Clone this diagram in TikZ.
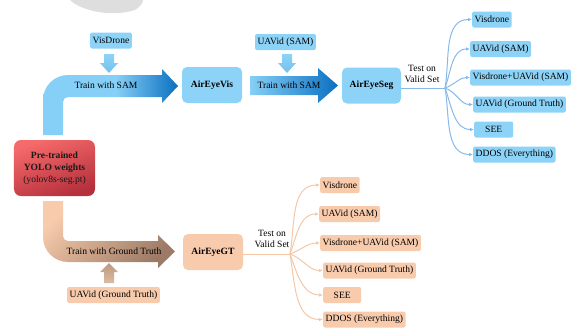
\documentclass[tikz,border=0pt]{standalone}
\usepackage{fontspec}
\setmainfont{Liberation Serif}
\usetikzlibrary{arrows.meta}
\definecolor{boxblue}{HTML}{8DD3F7}
\definecolor{boxpeach}{HTML}{F8CBAD}
\definecolor{lineblue}{HTML}{86B9EC}
\definecolor{linepeach}{HTML}{F5C7A6}
\definecolor{arrlight}{HTML}{86CFF6}
\definecolor{arrdark}{HTML}{0A6FC0}
\definecolor{peachlight}{HTML}{F7CBAB}
\definecolor{peachdark}{HTML}{9C7A66}
\definecolor{redlight}{HTML}{F56A6A}
\definecolor{reddark}{HTML}{B5303D}
\definecolor{blobgray}{HTML}{DEDEDE}
\definecolor{tan}{HTML}{D2AA8A}
\pgfdeclarehorizontalshading{bluearrA}{100bp}{color(0bp)=(arrlight); color(25bp)=(arrlight); color(52bp)=(arrlight); color(75bp)=(arrdark); color(100bp)=(arrdark)}
\pgfdeclarehorizontalshading{bluearrB}{100bp}{color(0bp)=(arrlight); color(25bp)=(arrlight); color(75bp)=(arrdark); color(100bp)=(arrdark)}
\newcommand\myfs{\fontsize{9.6}{11.5}\selectfont}
\begin{document}
\begin{tikzpicture}[x=1bp,y=-1bp,
  sbox/.style={fill=boxblue, rounded corners=2bp, inner xsep=2.5bp, inner ysep=0pt, minimum height=16bp, font=\myfs},
  pbox/.style={sbox, fill=boxpeach},
  bigbox/.style={fill=boxblue, rounded corners=5bp, minimum width=60bp, minimum height=36bp, font=\myfs\bfseries},
  pbig/.style={bigbox, fill=boxpeach},
  lbl/.style={font=\myfs, inner sep=0pt, align=center},
  fanb/.style={draw=lineblue, line width=1bp, -{Latex[length=4bp,width=3.5bp]}},
  fanp/.style={draw=linepeach, line width=1bp, -{Latex[length=4bp,width=3.5bp]}},
  stemb/.style={draw=lineblue, line width=1bp},
  stemp/.style={draw=linepeach, line width=1bp}]
\useasboundingbox (0,0) rectangle (579,327);
% faint blob at the top
\fill[blobgray] (70,0) .. controls (80,10) and (110,18) .. (135,10) .. controls (140,7) and (143,3) .. (143,0) -- cycle;

% top L-shaped arrow
\shade[shading=bluearrA] (43,135) -- (43,100) arc[start angle=180, end angle=270, radius=25]
  -- (162,75) -- (162,69) -- (178,86) -- (162,103) -- (162,97) -- (68,97)
  arc[start angle=270, end angle=180, radius=5] -- (63,135) -- cycle;
\node[lbl] (t1) at (106,85) {Train with SAM};
% second straight arrow
\shade[shading=bluearrB] (250,76) -- (318,76) -- (318,68) -- (338,85.5) -- (318,103) -- (318,95) -- (250,95) -- cycle;
\node[lbl] (t2) at (289,85) {Train with SAM};
% small down arrows
\shade[top color=boxblue, bottom color=arrlight!85!arrdark] (104,54) -- (114,54) -- (114,63) -- (118,63) -- (109,73) -- (100,63) -- (104,63) -- cycle;
\shade[top color=boxblue, bottom color=arrlight!85!arrdark] (282,54) -- (292,54) -- (292,63) -- (296,63) -- (287,73) -- (278,63) -- (282,63) -- cycle;

% bottom L-shaped arrow
\shade[top color=peachlight, bottom color=peachdark, shading angle=45] (43,201) -- (43,237) arc[start angle=180, end angle=90, radius=25]
  -- (158,262) -- (158,268) -- (175,251.5) -- (158,235) -- (158,241) -- (68,241)
  arc[start angle=90, end angle=180, radius=5] -- (63,201) -- cycle;
\node[lbl] (t3) at (114,251) {Train with Ground Truth};
% small up arrow
\shade[top color=tan!90!black, bottom color=tan!80!white] (104,283) -- (114,283) -- (114,272) -- (118,272) -- (109,263) -- (100,272) -- (104,272) -- cycle;

% boxes
\node[sbox] (vd) at (111,40.5) {VisDrone};
\node[sbox] (ua) at (285.5,42) {UAVid (SAM)};
\node[pbox] (uag) at (113.5,295) {UAVid (Ground Truth)};
\node[bigbox] (vis) at (212,85) {AirEyeVis};
\node[bigbox, minimum width=59bp] (seg) at (371.5,85.5) {AirEyeSeg};
\node[pbig] (gt) at (213,252) {AirEyeGT};
\node[rounded corners=7bp, top color=redlight, bottom color=reddark, shading angle=20,
  minimum width=81bp, minimum height=56bp, inner sep=0pt, align=center, font=\myfs, text=black!90]
  (yolo) at (54.5,168) {\textbf{Pre-trained}\\[0.5bp]\textbf{YOLO weights}\\[0.5bp](yolov8s-seg.pt)};

% top test fan
\node[lbl] (tv1) at (422,74) {Test on\\Valid Set};
\coordinate (f1) at (445,88);
\node[sbox, anchor=west] (b1) at (472,19.5) {Visdrone};
\node[sbox, anchor=west] (b2) at (470,49) {UAVid (SAM)};
\node[sbox, anchor=west] (b3) at (470,77.5) {Visdrone+UAVid (SAM)};
\node[sbox, anchor=west] (b4) at (473,104.5) {UAVid (Ground Truth)};
\node[sbox, anchor=west, minimum width=39bp] (b5) at (474,129.5) {SEE};
\node[sbox, anchor=west] (b6) at (473,154.5) {DDOS (Everything)};
\draw[stemb] (seg.east |- f1) -- (f1);
\draw[fanb] (f1) to[out=80, in=180] (b1.west);
\draw[fanb] (f1) to[out=70, in=180] (b2.west);
\draw[fanb] (f1) to[out=20, in=180] (b3.west);
\draw[fanb] (f1) to[out=-20, in=180] (b4.west);
\draw[fanb] (f1) to[out=-70, in=180] (b5.west);
\draw[fanb] (f1) to[out=-80, in=180] (b6.west);

% bottom test fan
\node[lbl] (tv2) at (272,239) {Test on\\Valid Set};
\coordinate (f2) at (290,254);
\node[pbox, anchor=west] (p1) at (320,185) {Visdrone};
\node[pbox, anchor=west] (p2) at (319,214) {UAVid (SAM)};
\node[pbox, anchor=west] (p3) at (320,243) {Visdrone+UAVid (SAM)};
\node[pbox, anchor=west] (p4) at (323,270.5) {UAVid (Ground Truth)};
\node[pbox, anchor=west, minimum width=38bp] (p5) at (323,295) {SEE};
\node[pbox, anchor=west] (p6) at (323,319.5) {DDOS (Everything)};
\draw[stemp] (gt.east |- f2) -- (f2);
\draw[fanp] (f2) to[out=80, in=180] (p1.west);
\draw[fanp] (f2) to[out=70, in=180] (p2.west);
\draw[fanp] (f2) to[out=20, in=180] (p3.west);
\draw[fanp] (f2) to[out=-20, in=180] (p4.west);
\draw[fanp] (f2) to[out=-70, in=180] (p5.west);
\draw[fanp] (f2) to[out=-80, in=180] (p6.west);
\end{tikzpicture}
\end{document}
